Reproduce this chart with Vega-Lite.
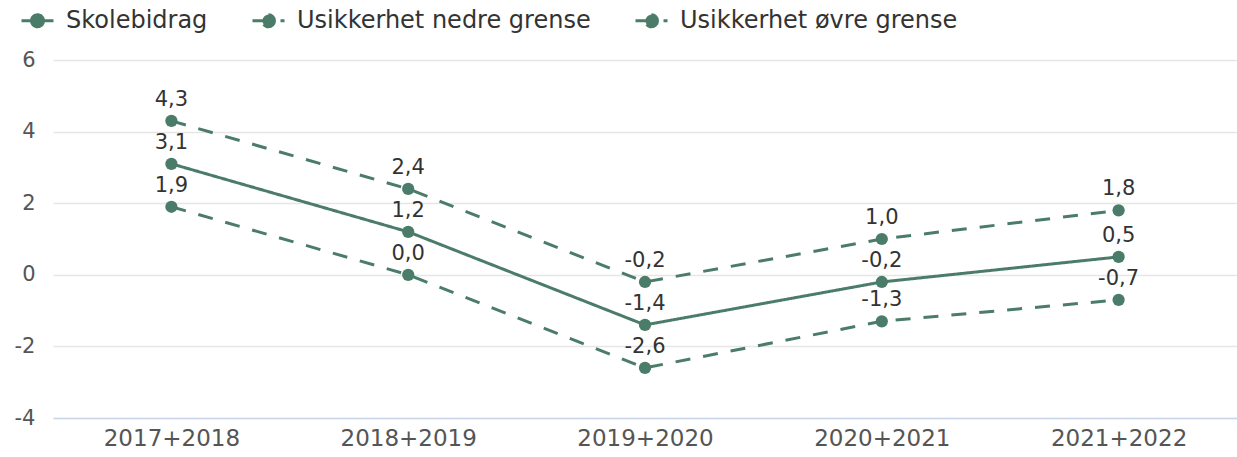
{
  "$schema": "https://vega.github.io/schema/vega-lite/v6.json",
  "width": 1184,
  "height": 358,
  "autosize": "none",
  "padding": {"left": 53, "top": 60, "right": 0, "bottom": 39},
  "config": {
    "view": {"stroke": null},
    "font": "DejaVu Sans",
    "locale": {"number": {"decimal": ",", "thousands": " ", "grouping": [3], "currency": ["", " kr"], "minus": "-"}}
  },
  "data": {
    "values": [
      {"periode": "2017+2018", "serie": "Skolebidrag", "verdi": 3.1},
      {"periode": "2018+2019", "serie": "Skolebidrag", "verdi": 1.2},
      {"periode": "2019+2020", "serie": "Skolebidrag", "verdi": -1.4},
      {"periode": "2020+2021", "serie": "Skolebidrag", "verdi": -0.2},
      {"periode": "2021+2022", "serie": "Skolebidrag", "verdi": 0.5},
      {"periode": "2017+2018", "serie": "Usikkerhet nedre grense", "verdi": 1.9},
      {"periode": "2018+2019", "serie": "Usikkerhet nedre grense", "verdi": 0.0},
      {"periode": "2019+2020", "serie": "Usikkerhet nedre grense", "verdi": -2.6},
      {"periode": "2020+2021", "serie": "Usikkerhet nedre grense", "verdi": -1.3},
      {"periode": "2021+2022", "serie": "Usikkerhet nedre grense", "verdi": -0.7},
      {"periode": "2017+2018", "serie": "Usikkerhet øvre grense", "verdi": 4.3},
      {"periode": "2018+2019", "serie": "Usikkerhet øvre grense", "verdi": 2.4},
      {"periode": "2019+2020", "serie": "Usikkerhet øvre grense", "verdi": -0.2},
      {"periode": "2020+2021", "serie": "Usikkerhet øvre grense", "verdi": 1.0},
      {"periode": "2021+2022", "serie": "Usikkerhet øvre grense", "verdi": 1.8}
    ]
  },
  "encoding": {
    "x": {
      "field": "periode", "type": "ordinal", "sort": null,
      "scale": {"type": "point", "padding": 0.5},
      "axis": {"title": null, "labelAngle": 0, "ticks": false, "domainColor": "#ccd6eb", "domainWidth": 1.5,
               "labelFontSize": 23, "labelColor": "#555555", "labelPadding": 9, "grid": false}
    },
    "y": {
      "field": "verdi", "type": "quantitative",
      "scale": {"domain": [-4, 6], "nice": false, "zero": false},
      "axis": {"title": null, "values": [-4, -2, 0, 2, 4, 6], "format": "d", "domain": false, "ticks": false,
               "gridColor": "#e6e6e6", "gridWidth": 1.5, "labelFontSize": 21, "labelColor": "#555555", "labelPadding": 18}
    }
  },
  "layer": [
    {
      "mark": {"type": "line", "color": "#4a7c69", "strokeWidth": 3},
      "encoding": {
        "strokeDash": {
          "field": "serie", "type": "nominal",
          "scale": {"domain": ["Skolebidrag", "Usikkerhet nedre grense", "Usikkerhet øvre grense"], "range": [[1, 0], [15, 13], [15, 13]]},
          "legend": {
            "title": null, "orient": "none", "legendX": -33, "legendY": -57, "direction": "horizontal",
            "symbolType": "M-1,0L1,0M0.375,0A0.375,0.375,0,1,1,-0.375,0A0.375,0.375,0,1,1,0.375,0Z",
            "symbolSize": 1024, "symbolStrokeWidth": 3, "symbolStrokeColor": "#4a7c69", "symbolFillColor": "#4a7c69",
            "labelFontSize": 24, "labelColor": "#333333", "labelOffset": 11, "columnPadding": 38, "labelLimit": 400
          }
        }
      }
    },
    {
      "mark": {"type": "point", "filled": true, "color": "#4a7c69", "opacity": 1, "size": 150},
      "encoding": {"detail": {"field": "serie"}}
    },
    {
      "mark": {"type": "text", "dy": -21, "fontSize": 21, "color": "#333333", "baseline": "middle"},
      "encoding": {"text": {"field": "verdi", "type": "quantitative", "format": ".1f"}}
    }
  ]
}
